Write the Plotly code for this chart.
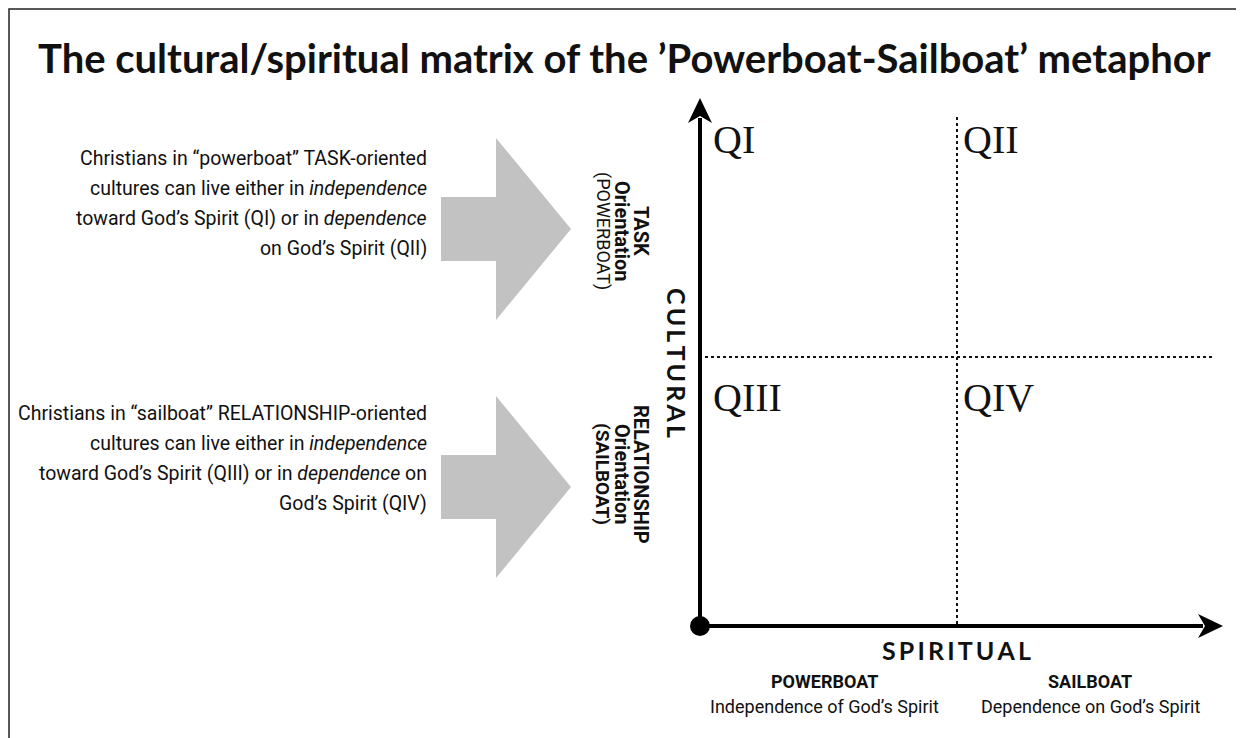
import plotly.graph_objects as go

# ---- content -------------------------------------------------------------
title_text = "The cultural/spiritual matrix of the \u2019Powerboat-Sailboat\u2019 metaphor"

task_lines = [
    "Christians in \u201cpowerboat\u201d TASK-oriented",
    "cultures can live either in <i>independence</i>",
    "toward God\u2019s Spirit (QI) or in <i>dependence</i>",
    "on God\u2019s Spirit (QII)",
]
rel_lines = [
    "Christians in \u201csailboat\u201d RELATIONSHIP-oriented",
    "cultures can live either in <i>independence</i>",
    "toward God\u2019s Spirit (QIII) or in <i>dependence</i> on",
    "God\u2019s Spirit (QIV)",
]
task_axis_lines = ["<b>TASK</b>", "<b>Orientation</b>", "(POWERBOAT)"]
rel_axis_lines = ["<b>RELATIONSHIP</b>", "<b>Orientation</b>", "<b>(SAILBOAT)</b>"]
quadrant_labels = ["QI", "QII", "QIII", "QIV"]
y_axis_title = "CULTURAL"
x_axis_title = "SPIRITUAL"
x_cat_titles = ["POWERBOAT", "SAILBOAT"]
x_cat_subtitles = ["Independence of God\u2019s Spirit", "Dependence on God\u2019s Spirit"]

# ---- layout geometry (pixels) --------------------------------------------
W, H = 1244, 738
ax_x0, ax_y0 = 692, 618          # origin
ax_top, ax_right = 90, 1215      # arrow tips
mid_x, mid_y = 949, 349          # dotted dividers

COND = "Roboto, Liberation Sans, sans-serif"
BOLD = "Lato, Open Sans, sans-serif"
SERIF = "Liberation Serif, Times New Roman, serif"

fig = go.Figure()
shapes = []
ann = []

# frame
shapes.append(dict(type="rect", x0=1, y0=1, x1=W + 20, y1=H + 20,
                   line=dict(color="#222", width=1.5)))

# gray block arrows
def block_arrow(yc, x0=433, x1=488, xt=563, hh=91):
    sh = round(hh * 0.35)
    return dict(type="path",
                path=(f"M {x0},{yc-sh} L {x1},{yc-sh} L {x1},{yc-hh} L {xt},{yc} "
                      f"L {x1},{yc+hh} L {x1},{yc+sh} L {x0},{yc+sh} Z"),
                fillcolor="#c2c2c2", line=dict(width=0))
shapes.append(block_arrow(221))
shapes.append(block_arrow(479))

# dotted dividers
shapes.append(dict(type="line", x0=mid_x, y0=109, x1=mid_x, y1=ax_y0,
                   line=dict(color="#111", width=2, dash="dot")))
shapes.append(dict(type="line", x0=697, y0=mid_y, x1=1204, y1=mid_y,
                   line=dict(color="#111", width=2, dash="dot")))

# axes
shapes.append(dict(type="line", x0=ax_x0, y0=ax_y0, x1=ax_x0, y1=ax_top + 20,
                   line=dict(color="black", width=4)))
shapes.append(dict(type="line", x0=ax_x0, y0=ax_y0, x1=ax_right - 20, y1=ax_y0,
                   line=dict(color="black", width=4)))
shapes.append(dict(type="path",
                   path=f"M {ax_x0-12},{ax_top+25} L {ax_x0},{ax_top} L {ax_x0+12},{ax_top+25} L {ax_x0},{ax_top+18} Z",
                   fillcolor="black", line=dict(width=0)))
shapes.append(dict(type="path",
                   path=f"M {ax_right-25},{ax_y0-12} L {ax_right},{ax_y0} L {ax_right-25},{ax_y0+12} L {ax_right-18},{ax_y0} Z",
                   fillcolor="black", line=dict(width=0)))
shapes.append(dict(type="circle", x0=ax_x0 - 10, y0=ax_y0 - 10, x1=ax_x0 + 10, y1=ax_y0 + 10,
                   fillcolor="black", line=dict(width=0)))

def text(x, y, s, size, family, xanchor="center", angle=0, color="#111"):
    ann.append(dict(x=x, y=y, text=s, showarrow=False, xanchor=xanchor, yanchor="middle",
                    textangle=angle, font=dict(size=size, family=family, color=color),
                    xref="x", yref="y"))

# title
text(616, 50, f"<b>{title_text}</b>", 40, BOLD)

# left descriptions
for i, s in enumerate(task_lines):
    text(421, 150 + i * 30, s, 19.5, COND, xanchor="right")
for i, s in enumerate(rel_lines):
    text(421, 405 + i * 30, s, 19.5, COND, xanchor="right")

# rotated orientation labels
task_sizes = [20, 20, 18]
rel_sizes = [20, 20, 19]
for i, (s, fs) in enumerate(zip(task_axis_lines, task_sizes)):
    text(633 - i * 19, 223, s, fs, COND, angle=90)
for i, (s, fs) in enumerate(zip(rel_axis_lines, rel_sizes)):
    text(633 - i * 19, 466, s, fs, COND, angle=90)

# axis titles
sp = "\u2009"
text(669, 355, "<b>" + sp.join(y_axis_title) + "</b>", 25, BOLD, angle=90)
text(948, 642, "<b>" + sp.join(x_axis_title) + "</b>", 25, BOLD)

for xc, t, st in zip([816, 1082], x_cat_titles, x_cat_subtitles):
    text(xc, 673, f"<b>{t}</b>", 18, COND)
    text(xc, 698, st, 18, COND)

# quadrant labels
qx = [703, 953, 703, 953]
qy = [131, 131, 389, 389]
for lab, x, y in zip(quadrant_labels, qx, qy):
    text(x, y, lab, 40, SERIF, xanchor="left")

fig.update_layout(
    width=W, height=H, margin=dict(l=0, r=0, t=0, b=0),
    paper_bgcolor="white", plot_bgcolor="white",
    xaxis=dict(range=[0, W], visible=False, fixedrange=True),
    yaxis=dict(range=[H, 0], visible=False, fixedrange=True),
    shapes=shapes, annotations=ann, showlegend=False,
)
fig.write_html("out.html")
